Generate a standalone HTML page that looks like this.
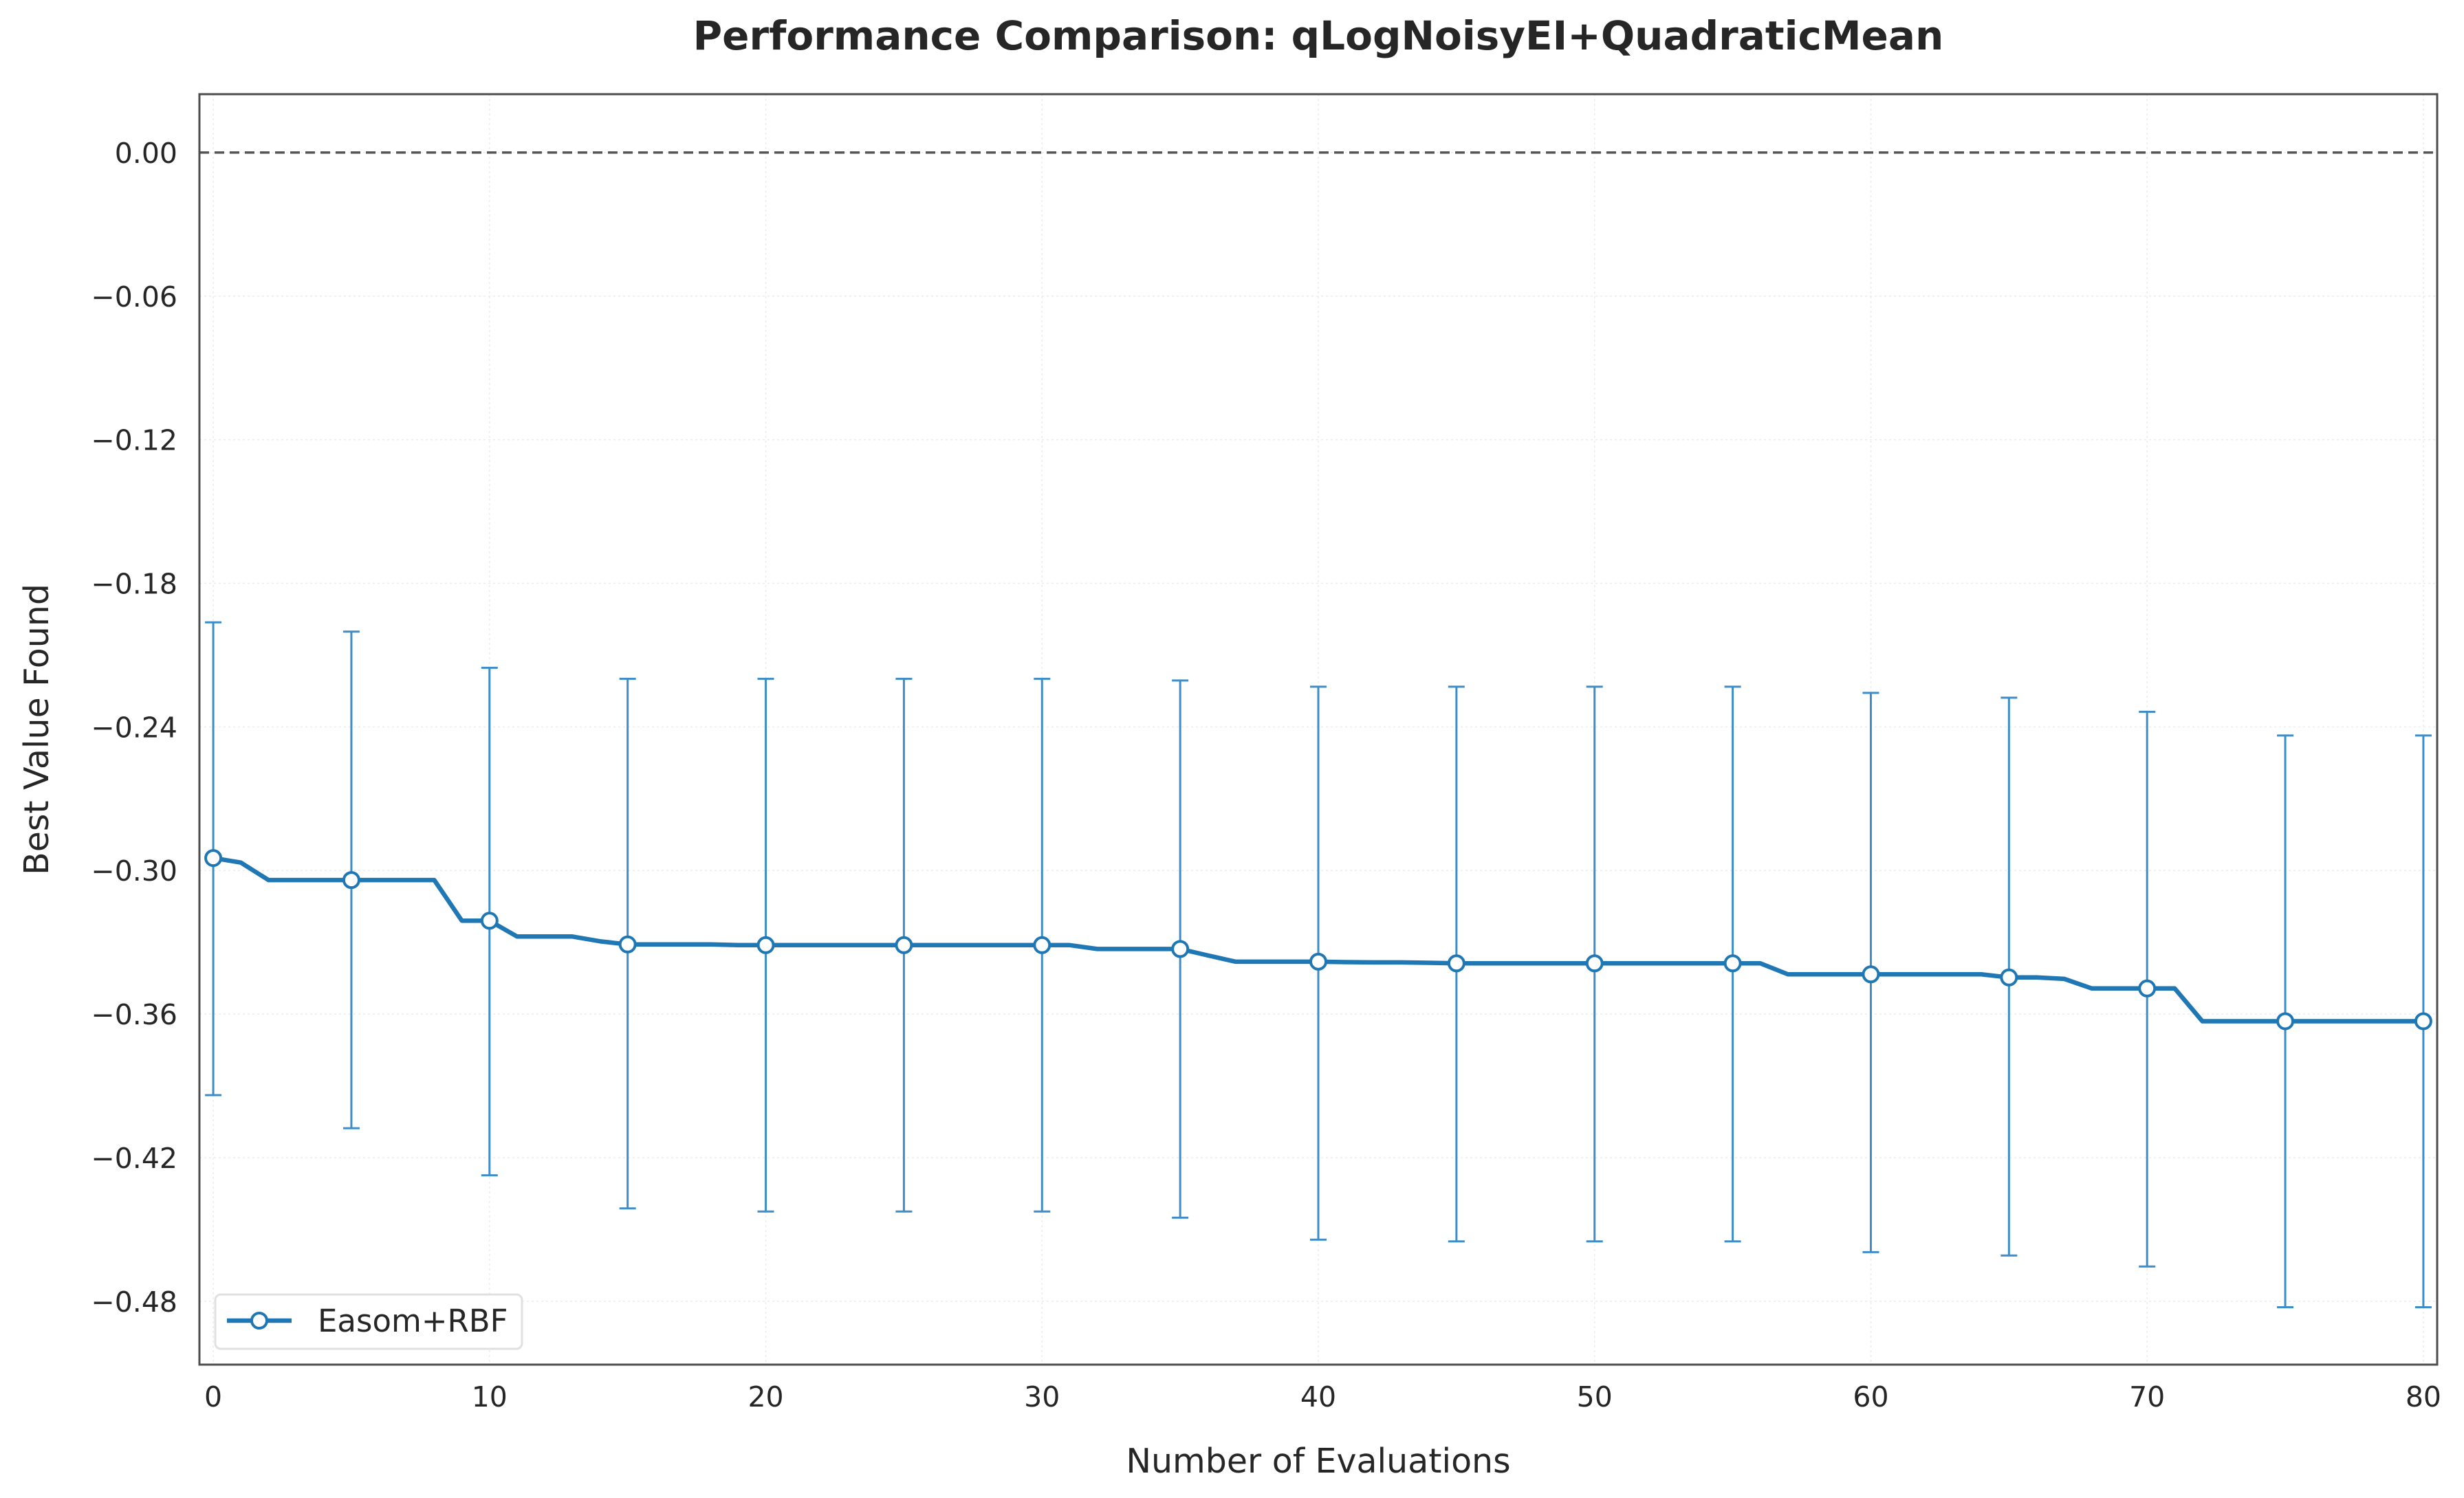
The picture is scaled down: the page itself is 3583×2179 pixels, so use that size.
<!DOCTYPE html>
<html><head><meta charset="utf-8"><style>
body{margin:0;background:#fff;}
svg{display:block;font-family:"DejaVu Sans","Liberation Sans",sans-serif;}
</style></head><body>
<svg id="chart" width="3583" height="2179" viewBox="0 0 3583 2179">
<rect width="3583" height="2179" fill="#fff"/>
<text x="1917" y="72" text-anchor="middle" font-size="58" font-weight="bold" fill="#262626">Performance Comparison: qLogNoisyEI+QuadraticMean</text>
<g id="grid"></g>
<g id="axes"></g>
<g id="series"></g>
<rect x="290" y="137" width="3254" height="1848" fill="none" stroke="#4d4d4d" stroke-width="3"/>
<text x="1917" y="2142" text-anchor="middle" font-size="49" fill="#262626">Number of Evaluations</text>
<text transform="translate(70,1061) rotate(-90)" text-anchor="middle" font-size="49" fill="#262626">Best Value Found</text>
<g>
<rect x="313" y="1883" width="446" height="79" rx="8" fill="#fff" stroke="#e0e0e0" stroke-width="3"/>
<line x1="330" y1="1921" x2="424" y2="1921" stroke="#1f77b4" stroke-width="6.5"/>
<circle cx="377" cy="1921" r="11" fill="#fff" stroke="#1f77b4" stroke-width="4"/>
<text x="462" y="1937" font-size="45" fill="#262626">Easom+RBF</text>
</g>
</svg>
<script>
const xs = [];
for (let i = 0; i <= 80; i++) xs.push(i);
const meanValues = [-0.2948,-0.2967,-0.3040,-0.3040,-0.3040,-0.3040,-0.3040,-0.3040,-0.3040,-0.3210,
-0.3210,-0.3276,-0.3276,-0.3276,-0.3296,-0.3309,-0.3309,-0.3309,-0.3309,-0.3312,
-0.3312,-0.3312,-0.3312,-0.3312,-0.3312,-0.3312,-0.3312,-0.3312,-0.3312,-0.3312,
-0.3312,-0.3312,-0.3328,-0.3328,-0.3328,-0.3328,-0.3355,-0.3381,-0.3381,-0.3381,
-0.3381,-0.3383,-0.3384,-0.3384,-0.3386,-0.3388,-0.3388,-0.3388,-0.3388,-0.3388,
-0.3388,-0.3388,-0.3388,-0.3388,-0.3388,-0.3388,-0.3388,-0.3434,-0.3434,-0.3434,
-0.3434,-0.3434,-0.3434,-0.3434,-0.3434,-0.3447,-0.3447,-0.3453,-0.3493,-0.3493,
-0.3493,-0.3493,-0.3630,-0.3630,-0.3630,-0.3630,-0.3630,-0.3630,-0.3630,-0.3630,-0.3630];
const errX = [0,5,10,15,20,25,30,35,40,45,50,55,60,65,70,75,80];
const errTop = [-0.1963,-0.2002,-0.2153,-0.2199,-0.2199,-0.2199,-0.2199,-0.2206,-0.2232,-0.2232,-0.2232,-0.2232,-0.2258,-0.2278,-0.2337,-0.2436,-0.2436];
const errBottom = [-0.3939,-0.4077,-0.4274,-0.4412,-0.4425,-0.4425,-0.4425,-0.4451,-0.4543,-0.4550,-0.4550,-0.4550,-0.4595,-0.4609,-0.4655,-0.4825,-0.4825];
const xTicks = [0,10,20,30,40,50,60,70,80];
const yTicks = [0,-0.06,-0.12,-0.18,-0.24,-0.30,-0.36,-0.42,-0.48];
const yTickLabels = ["0.00","\u22120.06","\u22120.12","\u22120.18","\u22120.24","\u22120.30","\u22120.36","\u22120.42","\u22120.48"];

const NS = "http://www.w3.org/2000/svg";
const L=290,R=3544,T=137,B=1985;
const xmin=-0.5,xmax=80.5,ymin=-0.5065,ymax=0.0244;
const sx = v => L + (v - xmin) / (xmax - xmin) * (R - L);
const sy = v => B - (v - ymin) / (ymax - ymin) * (B - T);
function mk(tag, attrs, parent) {
  const e = document.createElementNS(NS, tag);
  for (const k in attrs) e.setAttribute(k, attrs[k]);
  parent.appendChild(e);
  return e;
}
const grid = document.getElementById('grid');
const axes = document.getElementById('axes');
const series = document.getElementById('series');

xTicks.forEach(t => {
  const g = mk('line', {x1: sx(t), x2: sx(t), y1: T, y2: B, stroke: '#ebebeb', 'stroke-width': 1.5, 'stroke-dasharray': '3,4'}, grid);
  
  
  const tx = mk('text', {x: sx(t), y: 2046, 'text-anchor': 'middle', 'font-size': 41, fill: '#262626'}, axes);
  tx.textContent = String(t);
  
  
});
yTicks.forEach((t, i) => {
  const g = mk('line', {x1: L, x2: R, y1: sy(t), y2: sy(t), stroke: '#ebebeb', 'stroke-width': 1.5, 'stroke-dasharray': '3,4'}, grid);
  
  
  const tx = mk('text', {x: 258, y: sy(t) + 15, 'text-anchor': 'end', 'font-size': 41, fill: '#262626'}, axes);
  tx.textContent = yTickLabels[i];
  
  
});
const ref = mk('line', {x1: L, x2: R, y1: sy(0), y2: sy(0), stroke: '#555', 'stroke-width': 3.5, 'stroke-dasharray': '14,8'}, axes);



errX.forEach((x, i) => {
  const eb = mk('g', {stroke: '#3d8dc8', 'stroke-width': 3}, series);
  
  
  mk('line', {x1: sx(x), x2: sx(x), y1: sy(errTop[i]), y2: sy(errBottom[i])}, eb);
  mk('line', {x1: sx(x) - 12, x2: sx(x) + 12, y1: sy(errTop[i]), y2: sy(errTop[i])}, eb);
  mk('line', {x1: sx(x) - 12, x2: sx(x) + 12, y1: sy(errBottom[i]), y2: sy(errBottom[i])}, eb);
});
const pts = xs.map((x, i) => sx(x) + ',' + sy(meanValues[i])).join(' ');
const line = mk('polyline', {points: pts, fill: 'none', stroke: '#1f77b4', 'stroke-width': 6.5, 'stroke-linejoin': 'round'}, series);


errX.forEach(x => {
  const c = mk('circle', {cx: sx(x), cy: sy(meanValues[x]), r: 11, fill: '#fff', stroke: '#1f77b4', 'stroke-width': 4}, series);
  
  
});
</script>
</body></html>
